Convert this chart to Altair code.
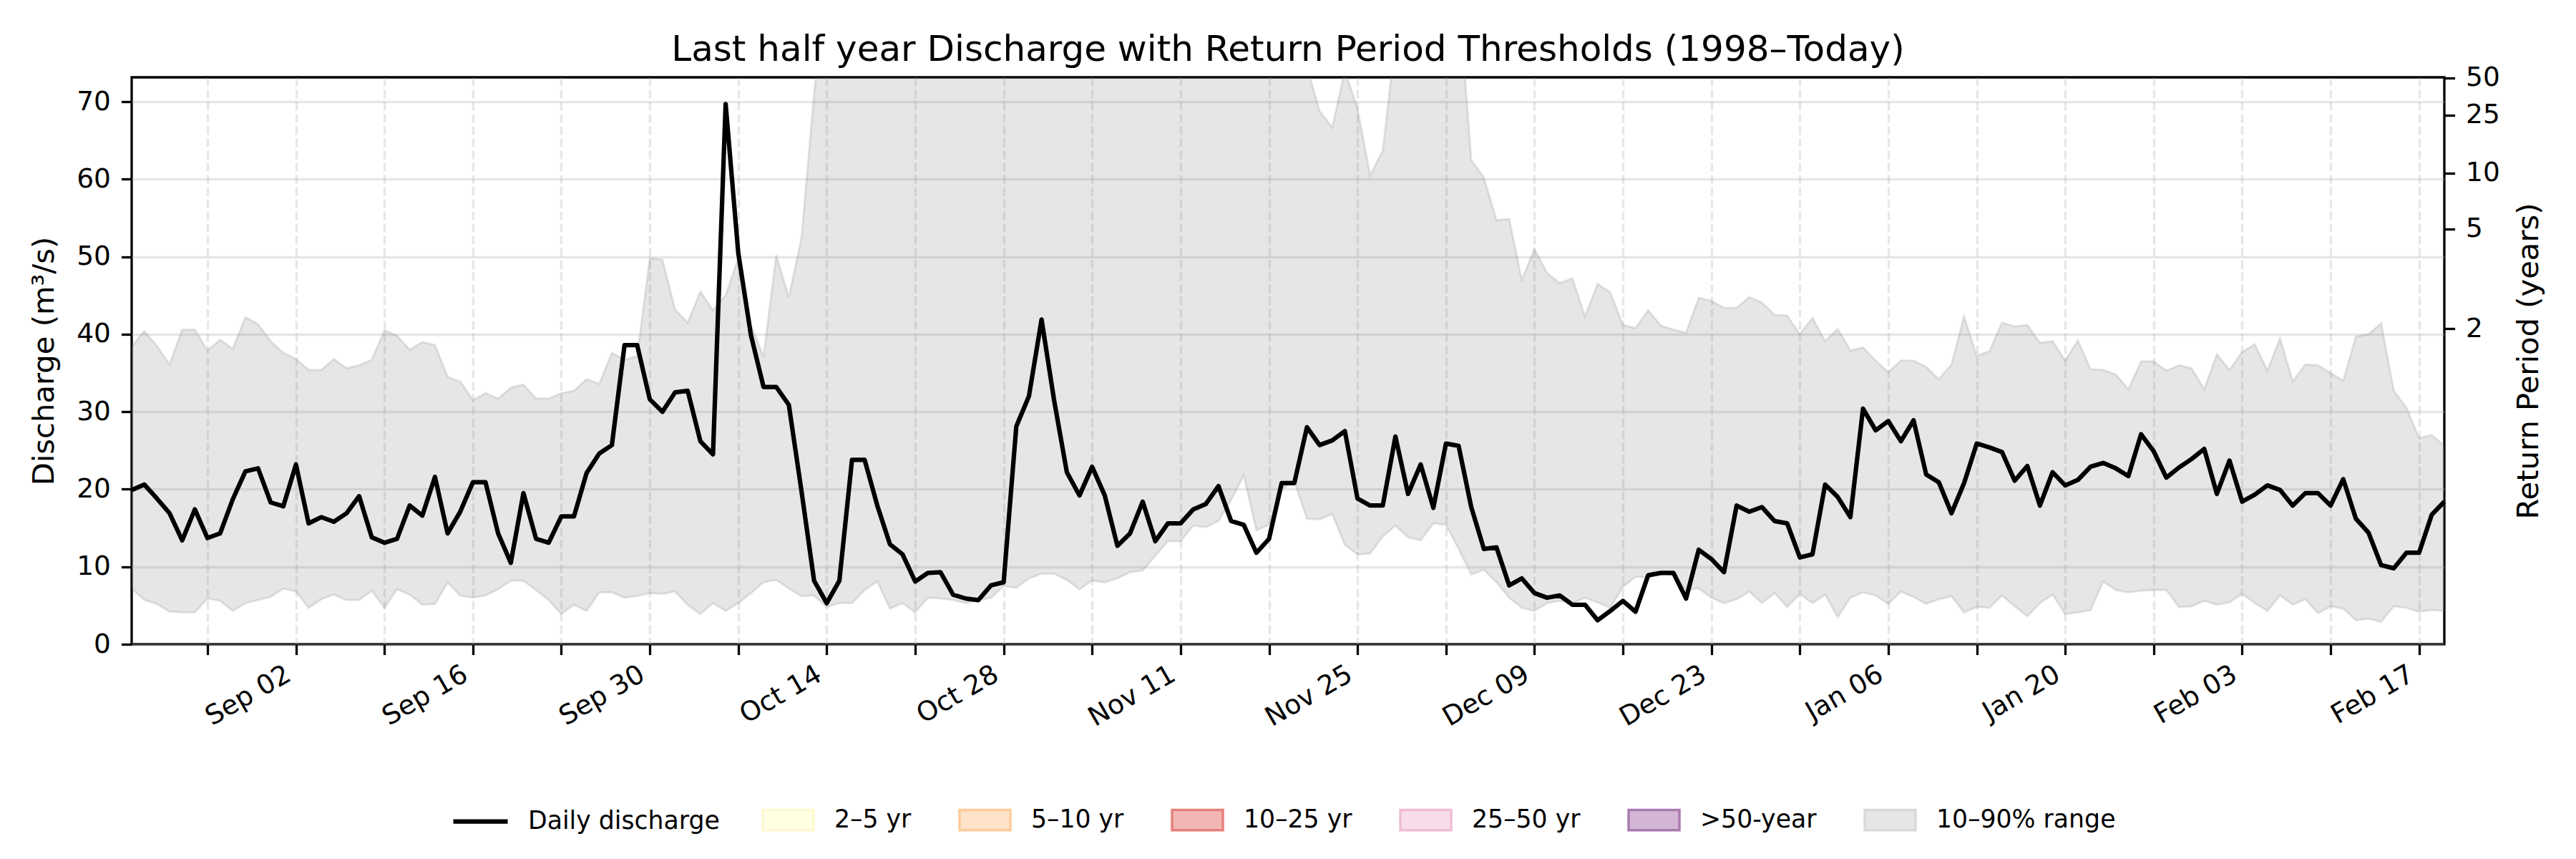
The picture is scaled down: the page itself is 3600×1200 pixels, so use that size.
import altair as alt
import pandas as pd

# ---------------- data ----------------
start_date = "2024-08-20"

discharge = [
    19.9, 20.6, 18.8, 16.9, 13.4, 17.4, 13.7, 14.3, 18.7, 22.3,
    22.7, 18.3, 17.8, 23.2, 15.6, 16.4, 15.8, 16.9, 19.1, 13.8,
    13.1, 13.6, 17.9, 16.6, 21.6, 14.3, 17.1, 20.9, 20.9, 14.3,
    10.5, 19.5, 13.6, 13.1, 16.5, 16.5, 22.1, 24.6, 25.7, 38.6,
    38.6, 31.6, 30.0, 32.5, 32.7, 26.2, 24.5, 69.7, 50.5, 39.9,
    33.2, 33.2, 30.9, 19.8, 8.2, 5.3, 8.2, 23.8, 23.8, 17.9,
    12.9, 11.6, 8.1, 9.2, 9.3, 6.4, 5.9, 5.7, 7.6, 8.0,
    28.1, 32.0, 41.9, 31.4, 22.2, 19.2, 22.9, 19.2, 12.7, 14.3,
    18.4, 13.3, 15.6, 15.6, 17.4, 18.1, 20.4, 15.9, 15.4, 11.8,
    13.6, 20.8, 20.8, 28.0, 25.7, 26.3, 27.5, 18.8, 17.9, 17.9,
    26.8, 19.4, 23.2, 17.6, 25.9, 25.6, 17.7, 12.3, 12.5, 7.6,
    8.5, 6.6, 6.0, 6.3, 5.1, 5.1, 3.1, 4.3, 5.6, 4.2,
    8.9, 9.2, 9.2, 5.9, 12.2, 11.0, 9.3, 17.9, 17.1, 17.7,
    15.9, 15.6, 11.2, 11.6, 20.6, 19.0, 16.4, 30.4, 27.6, 28.8,
    26.2, 28.9, 21.9, 20.9, 16.9, 20.8, 25.9, 25.4, 24.8, 21.1,
    23.0, 17.9, 22.2, 20.5, 21.2, 22.9, 23.4, 22.7, 21.7, 27.1,
    24.9, 21.5, 22.8, 23.9, 25.2, 19.4, 23.7, 18.4, 19.3, 20.5,
    19.9, 17.9, 19.5, 19.5, 17.9, 21.3, 16.2, 14.4, 10.2, 9.8,
    11.8, 11.8, 16.7, 18.4,
]

p90 = [
    38.4, 40.4, 38.5, 36.1, 40.6, 40.6, 37.9, 39.3, 38.1, 42.2,
    41.3, 39.1, 37.6, 36.8, 35.4, 35.4, 36.8, 35.6, 36.0, 36.7,
    40.5, 39.8, 38.0, 39.0, 38.6, 34.5, 33.9, 31.5, 32.4, 31.7,
    33.1, 33.5, 31.7, 31.7, 32.4, 32.7, 34.2, 33.6, 37.6, 36.7,
    37.2, 49.8, 49.6, 43.2, 41.5, 45.5, 43.1, 45.0, 49.8, 41.2,
    37.1, 50.2, 44.8, 52.4, 71.0, 86.0, 95.0, 102.0, 98.0, 104.0,
    97.0, 92.0, 88.0, 95.0, 101.0, 96.0, 90.0, 86.0, 93.0, 99.0,
    108.0, 112.0, 118.0, 110.0, 104.0, 98.0, 94.0, 97.0, 92.0, 88.0,
    91.0, 95.0, 90.0, 87.0, 84.0, 89.0, 93.0, 90.0, 86.0, 83.0,
    80.0, 81.0, 78.0, 74.5, 68.8, 66.7, 74.0, 69.1, 60.5, 63.7,
    78.0, 88.0, 92.0, 90.0, 85.0, 84.0, 62.5, 60.2, 54.7, 54.9,
    47.0, 51.0, 47.9, 46.6, 47.2, 42.3, 46.5, 45.4, 41.2, 40.8,
    43.1, 41.1, 40.6, 40.2, 44.7, 44.3, 43.4, 43.4, 44.8, 44.1,
    42.5, 42.4, 40.0, 42.1, 39.1, 40.7, 37.9, 38.3, 36.6, 35.1,
    36.6, 36.6, 35.8, 34.2, 36.1, 42.3, 37.2, 37.8, 41.5, 41.0,
    41.2, 38.9, 39.1, 36.6, 39.2, 35.5, 35.4, 34.8, 32.9, 36.5,
    36.5, 35.3, 36.0, 35.6, 32.9, 37.4, 35.4, 37.7, 38.7, 35.3,
    39.5, 33.9, 36.1, 36.0, 35.0, 34.0, 39.7, 40.0, 41.4, 32.7,
    30.5, 26.6, 27.0, 25.6,
]

p10 = [
    7.2, 5.7, 5.2, 4.2, 4.1, 4.1, 5.9, 5.6, 4.3, 5.3,
    5.7, 6.1, 7.2, 6.8, 4.7, 5.8, 6.4, 5.7, 5.7, 6.9,
    4.7, 7.1, 6.4, 5.1, 5.2, 8.0, 6.3, 6.0, 6.3, 7.1,
    8.2, 8.2, 7.0, 5.7, 3.9, 5.1, 4.3, 6.7, 6.7, 6.0,
    6.2, 6.6, 6.5, 6.8, 5.1, 3.9, 5.3, 4.3, 5.3, 6.6,
    8.0, 8.3, 7.2, 6.2, 6.3, 4.8, 5.3, 5.3, 7.0, 8.1,
    4.6, 5.3, 4.1, 6.0, 5.9, 5.7, 5.3, 5.7, 6.0, 7.5,
    7.3, 8.5, 9.1, 9.1, 8.3, 7.1, 8.2, 8.0, 8.5, 9.3,
    9.5, 11.4, 13.3, 13.3, 15.3, 15.1, 15.9, 18.6, 21.8, 14.7,
    15.4, 20.0, 21.0, 16.2, 16.1, 16.8, 12.8, 11.6, 11.7, 13.9,
    15.3, 13.8, 13.4, 15.6, 15.4, 12.3, 9.0, 9.6, 8.0, 6.0,
    4.7, 4.3, 5.3, 5.6, 5.3, 6.0, 5.4, 4.7, 7.4, 8.7,
    8.6, 9.2, 8.9, 7.0, 7.2, 6.0, 5.3, 5.8, 6.8, 5.3,
    6.6, 4.8, 6.5, 5.3, 6.4, 3.5, 6.0, 6.7, 6.3, 5.2,
    6.8, 6.1, 5.2, 5.8, 6.2, 4.1, 4.8, 4.7, 6.3, 4.9,
    3.6, 5.3, 6.4, 3.9, 4.1, 4.4, 8.1, 7.0, 6.7, 6.9,
    7.0, 7.0, 4.8, 4.9, 5.6, 5.1, 5.4, 6.5, 5.3, 4.3,
    6.3, 5.1, 5.8, 4.0, 4.9, 4.6, 3.1, 3.3, 2.9, 4.9,
    4.7, 4.2, 4.4, 4.3,
]

y_ticks = [0, 10, 20, 30, 40, 50, 60, 70]
y_max = 73.15

tick_dates = [
    "2024-08-26", "2024-09-02", "2024-09-09", "2024-09-16", "2024-09-23",
    "2024-09-30", "2024-10-07", "2024-10-14", "2024-10-21", "2024-10-28",
    "2024-11-04", "2024-11-11", "2024-11-18", "2024-11-25", "2024-12-02",
    "2024-12-09", "2024-12-16", "2024-12-23", "2024-12-30", "2025-01-06",
    "2025-01-13", "2025-01-20", "2025-01-27", "2025-02-03", "2025-02-10",
    "2025-02-17",
]
tick_labels = ["Sep 02", "Sep 16", "Sep 30", "Oct 14", "Oct 28", "Nov 11",
               "Nov 25", "Dec 09", "Dec 23", "Jan 06", "Jan 20", "Feb 03", "Feb 17"]

rp_years = ["2", "5", "10", "25", "50"]
rp_thresholds = [40.7, 53.6, 60.8, 68.3, 73.1]

line_label = "Daily discharge"
band_labels = ["2–5 yr", "5–10 yr", "10–25 yr", "25–50 yr", ">50-year", "10–90% range"]
band_fills = ["#ffffe4", "#fee3c8", "#f2b6b4", "#f7dde9", "#d3b5d5", "#e6e6e6"]
band_edges = ["#fdf8d0", "#fdcc9c", "#e5807c", "#efbdd5", "#a97bb0", "#dadada"]

title_text = "Last half year Discharge with Return Period Thresholds (1998–Today)"

# ---------------- frames ----------------
dates = pd.date_range(start_date, periods=len(discharge), freq="D")
df = pd.DataFrame({
    "date": dates.strftime("%Y-%m-%d"),
    "q": discharge,
    "p10": p10,
    "p90": p90,
    "series": line_label,
})
legend_df = pd.DataFrame({"label": band_labels})
rp_df = pd.DataFrame({"thr": rp_thresholds, "rp": rp_years})


def to_ms(s):
    return int(pd.Timestamp(s, tz="UTC").value // 10**6)


FONT = "DejaVu Sans"
W, H = 3232, 792
TICK = 14.6
LW = 3.3

x_domain = [to_ms(df["date"].iloc[0]), to_ms(df["date"].iloc[-1])]
label_list = ",".join("'" + l + "'" for l in tick_labels)
x_label_expr = ("indexof([" + label_list + "], utcFormat(datum.value, '%b %d')) >= 0 ? "
                "utcFormat(datum.value, '%b %d') : ''")

x_enc = alt.X(
    "date:T",
    scale=alt.Scale(type="utc", domain=x_domain, nice=False),
    axis=alt.Axis(
        values=[to_ms(d) for d in tick_dates],
        labelExpr=x_label_expr,
        labelAngle=330, labelAlign="right", labelBaseline="top",
        labelFontSize=37.5, labelPadding=8, labelOffset=-20,
        labelOverlap=False, labelFlush=False,
        tickSize=TICK, tickWidth=LW, tickColor="black",
        grid=True, gridDash=[12, 5], gridColor="#b0b0b0", gridOpacity=0.3, gridWidth=LW,
        title=None, domain=False,
    ),
)

y_scale = alt.Scale(domain=[0, y_max], nice=False, zero=False)
y_axis = alt.Axis(
    values=y_ticks, orient="left",
    title="Discharge (m³/s)", titleFontSize=41.7,
    titleX=-123, titleY=H / 2, titleAngle=270, titleAlign="center", titleBaseline="middle",
    labelFontSize=37.5, labelPadding=15,
    tickSize=TICK, tickWidth=LW, tickColor="black",
    grid=True, gridColor="#b0b0b0", gridOpacity=0.3, gridWidth=LW,
    domain=False,
)

band = alt.Chart(df).mark_area(
    clip=True, fill="#808080", fillOpacity=0.2,
    stroke="#808080", strokeOpacity=0.2, strokeWidth=3,
).encode(
    x=x_enc,
    y=alt.Y("p90:Q", scale=y_scale, axis=y_axis),
    y2="p10:Q",
)

line = alt.Chart(df).mark_line(strokeWidth=6.25, strokeJoin="round").encode(
    x=x_enc,
    y=alt.Y("q:Q", scale=y_scale, axis=y_axis),
    color=alt.Color(
        "series:N",
        scale=alt.Scale(domain=[line_label], range=["black"]),
        legend=alt.Legend(
            orient="none", legendX=446, legendY=998, direction="horizontal",
            title=None, symbolType="stroke", symbolStrokeWidth=6.25, symbolSize=5776,
            labelFontSize=34.7, labelOffset=25, labelLimit=2000, padding=0,
        ),
    ),
)

rect_path = "M-1,-0.4H1V0.4H-1Z"
patch_legend = alt.Legend(
    orient="none", legendX=880, legendY=1000, direction="horizontal", columns=6,
    title=None, symbolType=rect_path, symbolSize=5041, symbolStrokeWidth=3.5,
    symbolOpacity=1, labelFontSize=34.7, labelOffset=27, labelLimit=2000,
    columnPadding=60, padding=0,
)
legend_layer = alt.Chart(legend_df).mark_point(
    shape=rect_path, filled=True, opacity=0
).encode(
    x=alt.value(0), y=alt.value(0),
    fill=alt.Fill("label:N", scale=alt.Scale(domain=band_labels, range=band_fills),
                  legend=patch_legend),
    stroke=alt.Stroke("label:N", scale=alt.Scale(domain=band_labels, range=band_edges),
                      legend=patch_legend),
)

rp_expr = " : ".join(
    f"datum.value == {t} ? '{r}'" for t, r in zip(rp_thresholds, rp_years)
) + " : ''"

right_layer = alt.Chart(rp_df).mark_point(opacity=0).encode(
    x=alt.value(0),
    y=alt.Y(
        "thr:Q", scale=alt.Scale(domain=[0, y_max], nice=False, zero=False),
        axis=alt.Axis(
            orient="right", values=rp_thresholds, labelExpr=rp_expr,
            title="Return Period (years)", titleFontSize=41.7,
            titleX=117, titleY=H / 2, titleAngle=270, titleAlign="center", titleBaseline="middle",
            labelFontSize=37.5, labelPadding=15,
            tickSize=TICK, tickWidth=LW, tickColor="black",
            grid=False, domain=False,
        ),
    ),
)

inner = alt.layer(band, line, legend_layer)

chart = alt.layer(inner, right_layer).resolve_scale(y="independent").properties(
    width=W, height=H,
    autosize=alt.AutoSizeParams(type="none"),
    padding={"left": 176, "top": 100, "right": 176, "bottom": 292},
    title=alt.TitleParams(
        text=title_text, fontSize=50, font=FONT, fontWeight="normal", color="black",
        anchor="middle", frame="group", baseline="alphabetic", offset=23, dy=68,
    ),
).configure_view(
    stroke="black", strokeWidth=LW,
).configure_axis(
    labelFont=FONT, titleFont=FONT, labelColor="black", titleColor="black",
    titleFontWeight="normal",
).configure_legend(
    labelFont=FONT, labelColor="black",
)

chart.save("out.html", embed_options={"renderer": "svg", "actions": False})
